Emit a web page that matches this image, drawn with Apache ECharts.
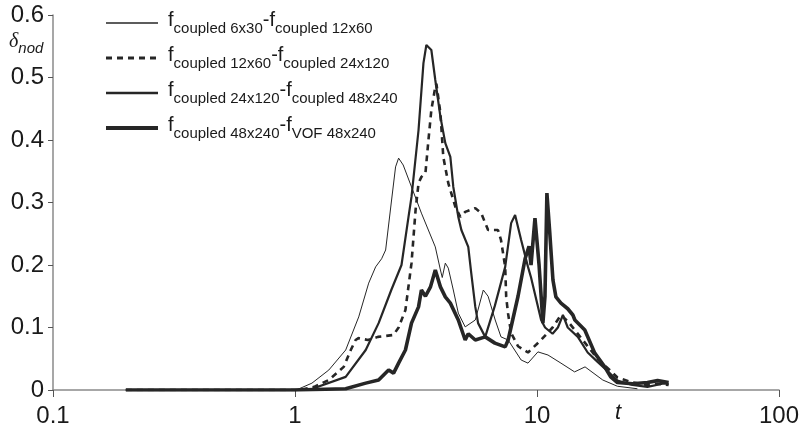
<!DOCTYPE html>
<html>
<head>
<meta charset="utf-8">
<script src="https://cdn.jsdelivr.net/npm/echarts@6/dist/echarts.min.js"></script>
<style>html,body{margin:0;padding:0;background:#fff}#c{width:802px;height:440px}</style>
</head>
<body>
<div id="c"></div>
<script>
// ---- data (t, δnod) ----
const xTickLabels = ['0.1', '1', '10', '100'];
const yTickLabels = ['0', '0.1', '0.2', '0.3', '0.4', '0.5', '0.6'];
const seriesNames = ['6x30-12x60', '12x60-24x120', '24x120-48x240', '48x240-VOF'];

const s1T = [0.2, 1.0, 1.04, 1.175, 1.38, 1.62, 1.834, 2.016, 2.154, 2.28, 2.369, 2.507, 2.604, 2.68, 2.8, 3.03, 3.33, 3.8, 3.99, 4.06, 4.18, 4.3, 4.51, 4.73, 5.05, 5.56, 6.0, 6.28, 6.72, 7.1, 7.6, 8.6, 9.18, 10.09, 11.1, 12.56, 14.3, 15.8, 18.7, 21.5, 26];
const s1V = [0, 0, 0.002, 0.011, 0.032, 0.064, 0.117, 0.171, 0.197, 0.21, 0.224, 0.304, 0.357, 0.371, 0.36, 0.325, 0.283, 0.229, 0.192, 0.18, 0.203, 0.195, 0.16, 0.123, 0.101, 0.112, 0.16, 0.15, 0.112, 0.085, 0.08, 0.048, 0.043, 0.061, 0.056, 0.043, 0.029, 0.037, 0.016, 0.006, 0.002];

const s2T = [0.2, 1.04, 1.2, 1.38, 1.59, 1.7, 1.78, 1.83, 2.0, 2.2, 2.55, 2.68, 2.86, 3.03, 3.15, 3.24, 3.33, 3.46, 3.56, 3.66, 3.8, 3.84, 3.99, 4.1, 4.3, 4.6, 4.82, 5.05, 5.56, 5.88, 6.28, 6.9, 7.1, 7.39, 7.46, 7.59, 7.82, 8.35, 9.18, 10.39, 11.6, 12.56, 13.4, 14.75, 16.2, 17.8, 19.6, 21.5, 24.8, 28.6, 31.5, 35];
const s2V = [0, 0, 0.005, 0.016, 0.037, 0.064, 0.08, 0.083, 0.08, 0.085, 0.088, 0.1, 0.128, 0.203, 0.288, 0.331, 0.341, 0.347, 0.4, 0.448, 0.485, 0.49, 0.443, 0.373, 0.331, 0.293, 0.277, 0.285, 0.291, 0.283, 0.256, 0.256, 0.24, 0.197, 0.149, 0.123, 0.091, 0.07, 0.06, 0.08, 0.1, 0.12, 0.11, 0.09, 0.07, 0.05, 0.035, 0.02, 0.012, 0.008, 0.01, 0.008];

const s3T = [0.2, 1.0, 1.18, 1.62, 1.96, 2.216, 2.5, 2.755, 2.945, 3.03, 3.24, 3.395, 3.49, 3.66, 3.8, 3.99, 4.18, 4.385, 4.51, 4.73, 4.87, 5.2, 5.35, 5.56, 5.71, 6.11, 6.7, 7.39, 7.82, 8.12, 8.6, 9.18, 9.45, 10.4, 10.8, 11.6, 12.2, 12.8, 13.4, 14.75, 16.2, 17.8, 19.6, 21.5, 24.8, 28.6, 33, 35];
const s3V = [0, 0, 0.002, 0.021, 0.064, 0.107, 0.16, 0.2, 0.277, 0.309, 0.416, 0.523, 0.552, 0.544, 0.496, 0.437, 0.395, 0.373, 0.325, 0.277, 0.256, 0.229, 0.187, 0.133, 0.107, 0.085, 0.135, 0.197, 0.267, 0.28, 0.24, 0.197, 0.18, 0.112, 0.1, 0.09, 0.1, 0.12, 0.1, 0.085, 0.06, 0.045, 0.03, 0.015, 0.008, 0.005, 0.01, 0.01];

const s4T = [0.2, 1.0, 1.62, 1.96, 2.216, 2.437, 2.555, 2.68, 2.86, 3.03, 3.24, 3.33, 3.46, 3.63, 3.8, 3.99, 4.18, 4.385, 4.73, 5.05, 5.2, 5.56, 6.11, 6.7, 7.39, 7.6, 8.35, 8.93, 9.27, 9.45, 9.81, 10.2, 10.58, 10.79, 10.99, 11.3, 11.64, 11.97, 12.56, 13.4, 14.07, 14.34, 15.76, 17.33, 19.05, 20.16, 21.5, 24.8, 28.6, 31.5, 35];
const s4V = [0, 0, 0.002, 0.011, 0.016, 0.032, 0.027, 0.043, 0.064, 0.107, 0.133, 0.16, 0.15, 0.165, 0.192, 0.165, 0.149, 0.139, 0.112, 0.08, 0.09, 0.08, 0.085, 0.075, 0.069, 0.08, 0.15, 0.21, 0.23, 0.2, 0.275, 0.2, 0.107, 0.15, 0.315, 0.25, 0.176, 0.149, 0.139, 0.13, 0.12, 0.112, 0.096, 0.059, 0.037, 0.021, 0.012, 0.01, 0.012, 0.015, 0.012];

const legendLabels = [
  ['coupled 6x30', 'coupled 12x60'],
  ['coupled 12x60', 'coupled 24x120'],
  ['coupled 24x120', 'coupled 48x240'],
  ['coupled 48x240', 'VOF 48x240']
];

const pairs = (t, v) => t.map((x, i) => [x, v[i]]);
const C = '#262626';
const FONT = 'Liberation Sans, Arial, sans-serif';
const widths = [1, 2.6, 2.2, 3.6];
const legendWidths = [1.3, 3, 2.6, 4];

const chart = echarts.init(document.getElementById('c'), null, {renderer: 'canvas'});
chart.setOption({
  animation: false,
  backgroundColor: '#fff',
  grid: {left: 53, right: 19, top: 15, bottom: 50, containLabel: false},
  xAxis: {
    type: 'log', logBase: 10, min: 0.1, max: 100,
    axisLine: {lineStyle: {color: '#8a8a8a', width: 1.5}},
    axisTick: {show: true, length: 7, lineStyle: {color: '#555'}},
    minorTick: {show: false},
    splitLine: {show: false},
    axisLabel: {
      fontFamily: FONT, fontSize: 24, color: '#1a1a1a', margin: 14,
      formatter: (v) => { const s = Number(v.toPrecision(6)).toString(); return xTickLabels.includes(s) ? s : ''; }
    }
  },
  yAxis: {
    type: 'value', min: 0, max: 0.6, interval: 0.1,
    axisLine: {show: true, lineStyle: {color: '#8a8a8a', width: 1.5}},
    axisTick: {show: true, length: 5, lineStyle: {color: '#555'}},
    splitLine: {show: false},
    axisLabel: {
      fontFamily: FONT, fontSize: 24, color: '#1a1a1a', margin: 9,
      formatter: (v) => yTickLabels[Math.round(v * 10)]
    }
  },
  legend: {
    orient: 'vertical', left: 104, top: 10, padding: 0, itemWidth: 52, itemHeight: 14, itemGap: 9,
    itemStyle: {opacity: 0},
    data: seriesNames.map((n, i) => ({name: n, lineStyle: {width: legendWidths[i]}})),
    formatter: (name) => {
      const l = legendLabels[seriesNames.indexOf(name)];
      return '{f|f}{s|' + l[0] + '}{f|-f}{s|' + l[1] + '}';
    },
    textStyle: {
      padding: [0, 0, 0, 5],
      rich: {
        f: {fontFamily: FONT, fontSize: 20, color: '#1a1a1a', lineHeight: 26, verticalAlign: 'top'},
        s: {fontFamily: FONT, fontSize: 15, color: '#1a1a1a', lineHeight: 26, verticalAlign: 'bottom'}
      }
    }
  },
  graphic: [
    {type: 'text', left: 9, top: 32, style: {
      text: '{d|δ}{n|nod}', rich: {
        d: {fontFamily: 'Liberation Serif, serif', fontStyle: 'italic', fontSize: 20, fill: '#1a1a1a', lineHeight: 24, verticalAlign: 'top'},
        n: {fontFamily: FONT, fontStyle: 'italic', fontSize: 15, fill: '#1a1a1a', lineHeight: 24, verticalAlign: 'bottom'}
      }}},
    {type: 'text', left: 615, top: 402, style: {text: 't', fontFamily: FONT, fontStyle: 'italic', fontSize: 22, fill: '#1a1a1a'}}
  ],
  series: [
    {name: seriesNames[0], type: 'line', data: pairs(s1T, s1V), symbol: 'none', lineStyle: {color: C, width: widths[0]}, itemStyle: {color: C}},
    {name: seriesNames[1], type: 'line', data: pairs(s2T, s2V), symbol: 'none', lineStyle: {color: C, width: widths[1], type: [6, 5]}, itemStyle: {color: C}},
    {name: seriesNames[2], type: 'line', data: pairs(s3T, s3V), symbol: 'none', lineStyle: {color: C, width: widths[2]}, itemStyle: {color: C}},
    {name: seriesNames[3], type: 'line', data: pairs(s4T, s4V), symbol: 'none', lineStyle: {color: C, width: widths[3]}, itemStyle: {color: C}}
  ]
});
</script>
</body>
</html>
